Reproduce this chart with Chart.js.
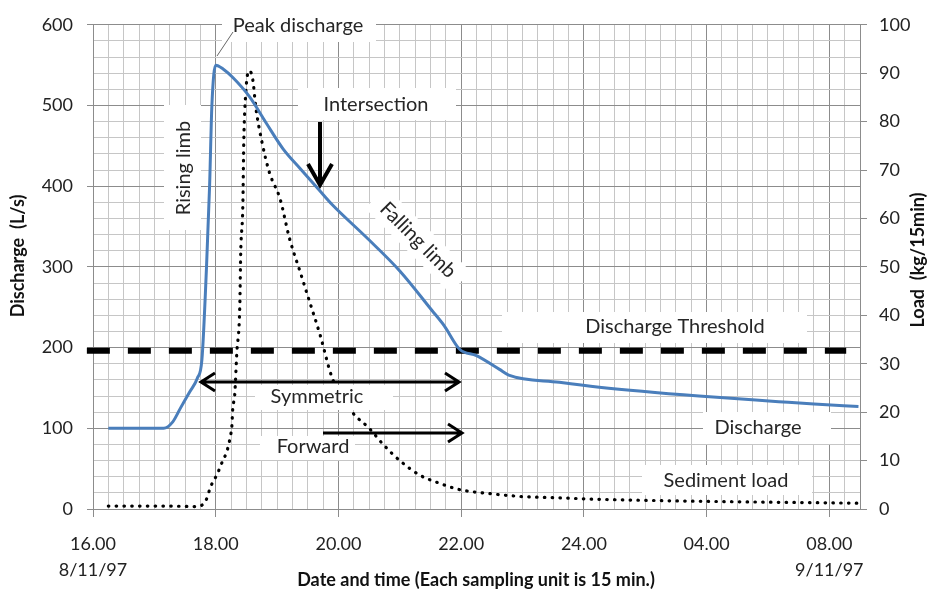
<!DOCTYPE html>
<html>
<head>
<meta charset="utf-8">
<script src="https://cdn.jsdelivr.net/npm/chart.js@4.4.1/dist/chart.umd.min.js"></script>
<style>
  html, body { margin: 0; padding: 0; background: #fff; }
  #wrap { width: 930px; height: 595px; }
</style>
</head>
<body>
<div id="wrap"><canvas id="grafica" width="930" height="595"></canvas></div>
<script>
// sampling units (15 min each), 0 = 16.00 on 8/11/97
const dischargeTime = [1, 4.6, 5.2, 5.7, 6.3, 6.8, 7.1, 7.4, 7.6, 7.75, 8.0, 8.5, 9.1, 10.2, 11.3, 12.4, 13.5, 14.8, 15.6, 17.8, 20.0, 22.1, 22.9, 23.9, 25.0, 26.5, 27.1, 30.4, 33.0, 39.5, 44.7, 47, 49.9];
const dischargeValues = [100, 100, 108, 125, 145, 162, 185, 300, 400, 500, 550, 545, 535, 511, 478, 446, 422, 394, 377, 337, 295, 246, 227, 198, 190, 173, 166, 157, 151, 140, 133, 130, 127];

const loadTime = [1, 2, 3, 4, 5, 6.6, 7.1, 7.45, 7.6, 7.8, 8.07, 8.27, 8.46, 8.72, 8.85, 8.98, 9.05, 9.11, 9.24, 9.37, 9.57, 9.63, 9.77, 9.83, 9.96, 10.09, 10.2, 10.42, 10.61, 11.0, 11.5, 12.2, 12.8, 13.5, 14.1, 14.8, 15.6, 16.9, 18.0, 18.9, 20.0, 21.3, 22.6, 23.9, 25.8, 27.8, 30.4, 33.0, 39.5, 49.9];
const loadValues = [0.6, 0.6, 0.6, 0.6, 0.6, 0.5, 0.8, 2.4, 4, 5.5, 7, 8.5, 10, 11.8, 13.4, 15.4, 17, 20.7, 23.6, 32, 42, 53, 63, 76, 86, 90, 90.5, 88.6, 83, 76, 69.5, 64, 56, 49, 43, 36, 27, 20, 16.7, 13.4, 10, 7, 5.3, 4, 3.2, 2.6, 2.3, 2, 1.6, 1.2];

const thresholdTime = [-0.4, 49.1];
const thresholdValue = 196;

const xTickLabels = [['16.00', '8/11/97'], '18.00', '20.00', '22.00', '24.00', '04.00', ['08.00', '9/11/97']];
const leftTicks = [0, 100, 200, 300, 400, 500, 600];
const rightTicks = [0, 10, 20, 30, 40, 50, 60, 70, 80, 90, 100];

const pts = (xs, ys) => xs.map((x, i) => ({ x: x, y: ys[i] }));

Chart.defaults.font.family = 'Lato';
Chart.defaults.color = '#222';

const notas = {
  id: 'notas',
  afterDatasetsDraw(chart) {
    const c = chart.ctx;
    c.save();
    c.fillStyle = '#fff';
    // white label boxes
    [[222, 12, 154, 30], [164, 105, 37, 125], [298, 88, 158, 32], [255, 385, 138, 25],
     [260, 436, 95, 24], [502, 312, 305, 31], [703, 412, 128, 32], [642, 465, 170, 30]]
      .forEach(b => c.fillRect(b[0], b[1], b[2], b[3]));
    c.save();
    c.translate(418, 240);
    c.rotate(Math.PI / 4);
    c.fillRect(-60, -15, 120, 30);
    c.restore();

    c.font = '20px Lato';
    c.fillStyle = '#262626';
    c.textAlign = 'center';
    c.textBaseline = 'middle';
    c.fillText('Peak discharge', 298, 26);
    c.fillText('Intersection', 376, 105);
    c.fillText('Symmetric', 317, 397);
    c.fillText('Forward', 313, 447);
    c.fillText('Discharge Threshold', 675, 327);
    c.fillText('Discharge', 758, 428);
    c.fillText('Sediment load', 726, 481);
    c.save();
    c.translate(184, 168);
    c.rotate(-Math.PI / 2);
    c.fillText('Rising limb', 0, 0);
    c.restore();
    c.save();
    c.translate(418, 240);
    c.rotate(Math.PI / 4);
    c.fillText('Falling limb', 0, 0);
    c.restore();

    // peak callout
    c.strokeStyle = '#666';
    c.lineWidth = 1;
    c.beginPath();
    c.moveTo(217, 56);
    c.lineTo(233, 32);
    c.stroke();

    // arrows
    c.strokeStyle = '#000';
    c.lineJoin = 'miter';
    c.lineWidth = 4;
    c.beginPath();
    c.moveTo(320, 122); c.lineTo(320, 184);
    c.moveTo(308, 164); c.lineTo(320, 185); c.lineTo(332, 164);
    c.stroke();

    c.lineWidth = 3;
    c.beginPath();
    c.moveTo(201, 382); c.lineTo(459, 382);
    c.moveTo(215, 373); c.lineTo(201, 382); c.lineTo(215, 391);
    c.moveTo(445, 373); c.lineTo(459, 382); c.lineTo(445, 391);
    c.moveTo(323, 433); c.lineTo(462, 433);
    c.moveTo(448, 424); c.lineTo(462, 433); c.lineTo(448, 442);
    c.stroke();
    c.restore();
  },
  afterDraw(chart) {
    const c = chart.ctx;
    c.save();
    c.font = 'bold 18px Lato';
    c.fillStyle = '#111';
    c.textAlign = 'center';
    c.textBaseline = 'middle';
    c.fillText('Date and time (Each sampling unit is 15 min.)', 476, 580);
    c.save();
    c.translate(18, 256);
    c.rotate(-Math.PI / 2);
    c.fillText('Discharge  (L/s)', 0, 0);
    c.restore();
    c.save();
    c.translate(918, 260);
    c.rotate(-Math.PI / 2);
    c.fillText('Load  (kg/15min)', 0, 0);
    c.restore();
    c.restore();
  }
};

const ctx = document.getElementById('grafica');
new Chart(ctx, {
  type: 'line',
  data: {
    datasets: [
      {
        label: 'Discharge',
        data: pts(dischargeTime, dischargeValues),
        yAxisID: 'y',
        borderColor: '#4a7ebb',
        borderWidth: 3,
        pointRadius: 0,
        cubicInterpolationMode: 'monotone'
      },
      {
        label: 'Sediment load',
        data: pts(loadTime, loadValues),
        yAxisID: 'y1',
        borderColor: '#000',
        borderWidth: 3.2,
        borderDash: [0.5, 7.3],
        borderCapStyle: 'round',
        pointRadius: 0,
        cubicInterpolationMode: 'monotone'
      },
      {
        label: 'Discharge Threshold',
        data: pts(thresholdTime, thresholdTime.map(() => thresholdValue)),
        yAxisID: 'y',
        borderColor: '#000',
        borderWidth: 6,
        borderDash: [23, 18],
        pointRadius: 0,
        clip: false
      }
    ]
  },
  options: {
    responsive: false,
    animation: false,
    layout: { padding: { top: 17, left: 0, right: 0, bottom: 0 } },
    plugins: { legend: { display: false }, tooltip: { enabled: false } },
    scales: {
      x: {
        type: 'linear',
        min: 0,
        max: 50,
        afterFit: s => { s.height = 86; },
        ticks: {
          stepSize: 1,
          autoSkip: false,
          maxRotation: 0,
          padding: 15,
          font: { size: 18, lineHeight: 1.4 },
          callback: v => (v % 8 === 0 ? (xTickLabels[v / 8] ?? '') : '')
        },
        grid: {
          color: c => (c.tick && c.tick.value % 8 === 0 ? '#8c8c8c' : '#c6c6c6'),
          tickColor: c => (c.tick && c.tick.value % 8 === 0 && c.tick.value <= 48 ? '#8c8c8c' : 'transparent'),
          tickLength: 8
        },
        border: { color: '#8c8c8c' }
      },
      y: {
        position: 'left',
        min: 0,
        max: 600,
        afterFit: s => { s.width = 93; },
        ticks: {
          stepSize: 20,
          autoSkip: false,
          padding: 14,
          font: { size: 18 },
          callback: v => (leftTicks.includes(v) ? String(v) : '')
        },
        grid: {
          color: c => (c.tick && c.tick.value % 100 === 0 ? '#8c8c8c' : '#c6c6c6'),
          tickColor: c => (c.tick && c.tick.value % 100 === 0 ? '#8c8c8c' : 'transparent'),
          tickLength: 6
        },
        border: { color: '#8c8c8c' }
      },
      y1: {
        position: 'right',
        min: 0,
        max: 100,
        afterFit: s => { s.width = 70; },
        ticks: {
          stepSize: 10,
          autoSkip: false,
          padding: 12,
          font: { size: 18 },
          callback: v => (rightTicks.includes(v) ? String(v) : '')
        },
        grid: { drawOnChartArea: false, color: '#8c8c8c', tickLength: 7 },
        border: { color: '#8c8c8c' }
      }
    }
  },
  plugins: [notas]
});
</script>
</body>
</html>
